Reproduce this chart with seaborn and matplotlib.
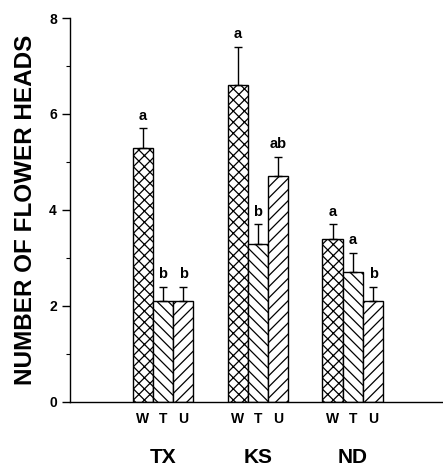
import matplotlib
matplotlib.use("Agg")
import matplotlib.pyplot as plt
import matplotlib.transforms as mtransforms
import seaborn as sns
import pandas as pd

states = ["TX", "KS", "ND"]
treatments = ["W", "T", "U"]
means_W = [5.3, 6.6, 3.4]
means_T = [2.1, 3.3, 2.7]
means_U = [2.1, 4.7, 2.1]
se_W = [0.4, 0.8, 0.3]
se_T = [0.3, 0.4, 0.4]
se_U = [0.3, 0.4, 0.3]
letters_W = ["a", "a", "a"]
letters_T = ["b", "b", "a"]
letters_U = ["b", "ab", "b"]
yticks = [0, 2, 4, 6, 8]

sns.set_theme(style="ticks")
plt.rcParams['font.family'] = ['Liberation Sans', 'DejaVu Sans']
plt.rcParams['hatch.linewidth'] = 0.9
plt.rcParams['text.color'] = 'black'
plt.rcParams['axes.labelcolor'] = 'black'
plt.rcParams['xtick.color'] = 'black'
plt.rcParams['ytick.color'] = 'black'

rows = []
for i, s in enumerate(states):
    for t, m, e, l in zip(treatments,
                          [means_W[i], means_T[i], means_U[i]],
                          [se_W[i], se_T[i], se_U[i]],
                          [letters_W[i], letters_T[i], letters_U[i]]):
        rows.append(dict(state=s, treatment=t, value=m, se=e, letter=l))
df = pd.DataFrame(rows)

fig = plt.figure(figsize=(4.43, 4.74), dpi=100)
ax = fig.add_axes([0.158, 0.152, 0.842, 0.810])

sns.barplot(data=df, x="state", y="value", hue="treatment", order=states,
            hue_order=treatments, palette=["white"] * 3, edgecolor="black",
            linewidth=1.0, width=0.64, gap=0, errorbar=None, legend=False, ax=ax)

hatches = {"W": "xxx", "T": "\\\\\\", "U": "///"}
bars = [p for p in ax.patches if p.get_height() > 0]
centers = []
labels = []
for k, t in enumerate(treatments):
    for i, s in enumerate(states):
        p = bars[k * len(states) + i]
        p.set_hatch(hatches[t])
        row = df[(df.state == s) & (df.treatment == t)].iloc[0]
        cx = p.get_x() + p.get_width() / 2
        top = p.get_height()
        ax.errorbar([cx], [top], yerr=[[0], [row.se]], fmt="none",
                    ecolor="black", elinewidth=1.0, capsize=3, capthick=1.0)
        ax.text(cx, top + row.se + 0.12, row.letter, ha="center", va="bottom",
                fontsize=10.5, fontweight="bold", color="black")
        centers.append(cx)
        labels.append(t)

ax.set_xticks(centers)
ax.set_xticklabels(labels, fontsize=10, fontweight="bold", color="black")
ax.tick_params(axis="x", length=0, pad=7)

trans = mtransforms.blended_transform_factory(ax.transData, ax.transAxes)
for i, s in enumerate(states):
    ax.text(i, -0.145, s, transform=trans, ha="center", va="center",
            fontsize=15, fontweight="bold", color="black")

ax.set_ylim(0, 8)
ax.set_xlim(-0.98, 2.95)
ax.set_yticks(yticks)
ax.set_yticklabels([str(v) for v in yticks], fontsize=10, fontweight="bold", color="black")
ax.set_yticks([1, 3, 5, 7], minor=True)
ax.tick_params(axis="y", which="major", length=6, width=1, direction="out", color="black")
ax.tick_params(axis="y", which="minor", length=3, width=0.8, direction="out", color="black")
ax.set_ylabel("NUMBER OF FLOWER HEADS", fontsize=17.5, fontweight="bold",
              color="black", labelpad=9)
ax.set_xlabel("")
for sp in ["top", "right"]:
    ax.spines[sp].set_visible(False)
for sp in ["left", "bottom"]:
    ax.spines[sp].set_color("black")
    ax.spines[sp].set_linewidth(1.0)

fig.savefig("out.png", dpi=100, facecolor="white")
